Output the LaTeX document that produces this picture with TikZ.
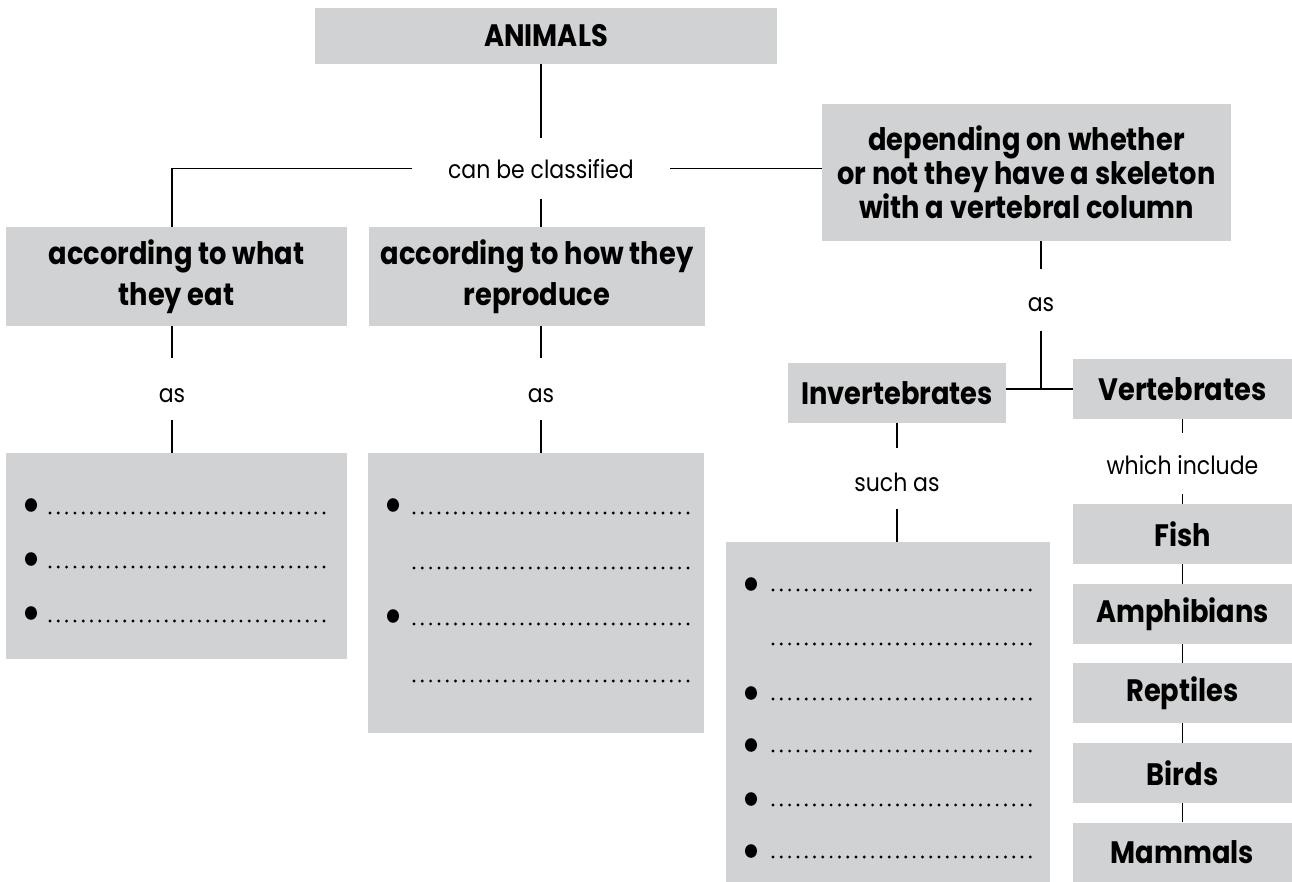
\documentclass[tikz,border=0pt]{standalone}
\usepackage{fontspec}
\setmainfont{Poppins}[FakeStretch=0.88]
\definecolor{boxgray}{HTML}{D1D2D4}
\begin{document}
\begin{tikzpicture}[x=1pt,y=-1pt,
  box/.style={fill=boxgray, inner sep=0pt, align=center, font=\fontsize{31}{38}\selectfont\bfseries},
  lbl/.style={inner sep=0pt, anchor=base, font=\fontsize{25}{28}\selectfont, text height=42pt, text depth=19pt},
  conn/.style={line width=1.3pt, draw=black},
  dotline/.style={line width=3.2pt, line cap=round, dash pattern=on 0pt off 8.3pt},
  bul/.style={fill=black}
]
\useasboundingbox (0,0) rectangle (1292,882);
% main boxes
\node[box, minimum width=462pt, minimum height=56pt] (animals) at (546,36) {ANIMALS};
\node[lbl, minimum width=258pt, text height=41pt, text depth=20pt] (cls) at (541,179) {can be classified};
\node[box, minimum width=341pt, minimum height=99pt, font=\fontsize{31}{41}\selectfont\bfseries] (eat) at (176.5,276.5) {according to what\\they eat};
\node[box, minimum width=336pt, minimum height=99pt, font=\fontsize{31}{41}\selectfont\bfseries] (repro) at (537,276.5) {according to how they\\reproduce};
\node[box, minimum width=409pt, minimum height=137pt, font=\fontsize{31}{34}\selectfont\bfseries] (depend) at (1026.5,172.5) {depending on whether\\or not they have a skeleton\\with a vertebral column};
% labels
\node[lbl, text height=44pt, text depth=18pt] (as1) at (172,402) {as};
\node[lbl, text height=44pt, text depth=18pt] (as2) at (541,402) {as};
\node[lbl, text height=43pt, text depth=19pt] (as3) at (1041,312) {as};
% list boxes
\node[box, minimum width=341pt, minimum height=206pt] (list1) at (176.5,556) {};
\node[box, minimum width=336pt, minimum height=280pt] (list2) at (536,593) {};
% invertebrates / vertebrates
\node[box, minimum width=218pt, minimum height=60pt] (invert) at (897,393) {Invertebrates};
\node[box, minimum width=219pt, minimum height=60pt] (vert) at (1182.5,389) {Vertebrates};
\node[lbl, text height=43pt, text depth=18pt] (suchas) at (897,491) {such as};
\node[box, minimum width=324pt, minimum height=340pt] (list3) at (888,712) {};
\node[lbl, text height=41pt, text depth=20pt] (which) at (1182.5,474) {which include};
\node[box, minimum width=219pt, minimum height=60pt] (fish) at (1182.5,534) {Fish};
\node[box, minimum width=219pt, minimum height=60pt] (amph) at (1182.5,614) {Amphibians};
\node[box, minimum width=219pt, minimum height=60pt] (rept) at (1182.5,693) {Reptiles};
\node[box, minimum width=219pt, minimum height=60pt] (birds) at (1182.5,773) {Birds};
\node[box, minimum width=219pt, minimum height=60pt] (mamm) at (1182.5,852.5) {Mammals};
% connectors
\draw[conn] (cls.north |- animals.south) -- (cls.north);
\draw[conn] (cls.west) -| (as1.north |- eat.north);
\draw[conn] (cls.south) -- (cls.south |- repro.north);
\draw[conn] (cls.east) -- (depend.west |- cls.east);
\draw[conn] (as1.north |- eat.south) -- (as1.north);
\draw[conn] (as1.south) -- (as1.south |- list1.north);
\draw[conn] (as2.north |- repro.south) -- (as2.north);
\draw[conn] (as2.south) -- (as2.south |- list2.north);
\draw[conn] (as3.north |- depend.south) -- (as3.north);
\draw[conn] (as3.south) -- (as3.south |- vert.west);
\draw[conn] (invert.east |- vert.west) -- (vert.west);
\draw[conn] (suchas.north |- invert.south) -- (suchas.north);
\draw[conn] (suchas.south) -- (suchas.south |- list3.north);
\draw[conn] (vert.south) -- (which.north);
\draw[conn] (which.south) -- (fish.north);
\draw[conn] (fish.south) -- (amph.north);
\draw[conn] (amph.south) -- (rept.north);
\draw[conn] (rept.south) -- (birds.north);
\draw[conn] (birds.south) -- (mamm.north);
% list 1 contents
\foreach \y in {513,567,621} {
  \fill[bul] (31,\y-8) ellipse[x radius=6pt, y radius=6.8pt];
  \draw[dotline] (50,\y) -- (329,\y);
}
% list 2 contents
\foreach \y in {513,624} {
  \fill[bul] (393,\y-8) ellipse[x radius=6pt, y radius=6.8pt];
}
\foreach \y in {513,568,624,681} {
  \draw[dotline] (414,\y) -- (693,\y);
}
% list 3 contents
\foreach \y in {590,699,751,805,857} {
  \fill[bul] (751,\y-6) ellipse[x radius=6pt, y radius=6.8pt];
}
\foreach \y in {590,644,699,751,805,857} {
  \draw[dotline] (773,\y) -- (1037,\y);
}
\end{tikzpicture}
\end{document}
